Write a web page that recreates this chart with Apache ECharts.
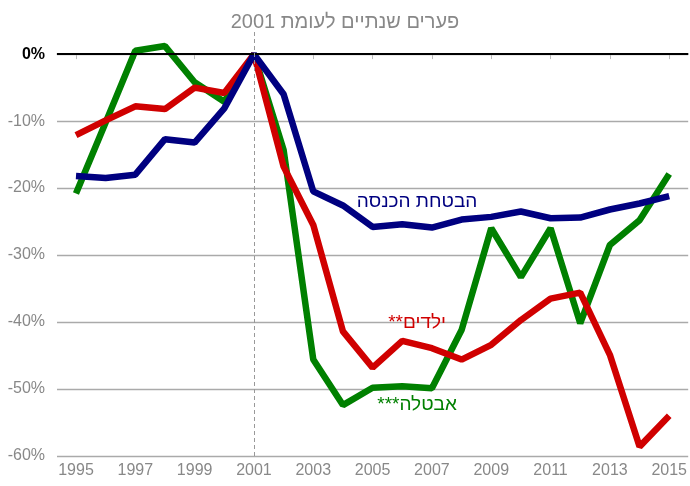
<!DOCTYPE html>
<html lang="he">
<head>
  <meta charset="UTF-8">
  <title>פערים שנתיים לעומת 2001</title>
  <style>
    html, body { margin: 0; padding: 0; background: #fff; }
    #main { width: 690px; height: 486px; }
  </style>
</head>
<body>
  <div id="main"></div>
  <script src="https://cdn.jsdelivr.net/npm/echarts@6/dist/echarts.min.js"></script>
  <script>
    // שנים ונתונים (אחוז שינוי לעומת 2001)
    var years = [1995, 1996, 1997, 1998, 1999, 2000, 2001, 2002, 2003, 2004, 2005,
                 2006, 2007, 2008, 2009, 2010, 2011, 2012, 2013, 2014, 2015]
    var yearLabels = [1995, 1997, 1999, 2001, 2003, 2005, 2007, 2009, 2011, 2013, 2015]
    var incomeSupport = [-18.2, -18.5, -18.0, -12.7, -13.2, -8.1, 0, -6.0, -20.5, -22.6, -25.8,
                         -25.4, -25.9, -24.7, -24.3, -23.5, -24.5, -24.4, -23.2, -22.3, -21.2]
    var children = [-12.1, -9.9, -7.8, -8.2, -5.0, -5.8, 0, -16.8, -25.5, -41.4, -46.8,
                    -42.8, -43.9, -45.6, -43.4, -39.7, -36.5, -35.6, -44.9, -58.6, -54.0]
    var unemployment = [-20.8, -10.2, 0.5, 1.2, -4.2, -7.1, 0, -14.3, -45.6, -52.4, -49.8,
                        -49.6, -49.9, -41.2, -26.0, -33.3, -26.0, -40.2, -28.5, -24.8, -17.9]

    function pairs(arr) {
      return years.map(function (y, i) { return [y, arr[i]] })
    }

    var myChart = echarts.init(document.getElementById('main'))

    var option = {
      animation: false,
      textStyle: { fontFamily: 'Liberation Sans, Arial, sans-serif' },
      title: {
        text: 'פערים שנתיים לעומת 2001',
        left: 'center',
        top: 7,
        textStyle: { color: '#888', fontSize: 20, fontWeight: 'normal' }
      },
      grid: { left: 57, right: 0, top: 30, bottom: 30 },
      xAxis: {
        type: 'value',
        min: 1994.36,
        max: 2015.64,
        axisLine: { lineStyle: { color: '#bbb', width: 1.5 } },
        axisTick: { customValues: yearLabels, length: 5, lineStyle: { color: '#bbb' } },
        axisLabel: {
          customValues: yearLabels,
          color: '#888',
          fontSize: 16,
          margin: 7,
          formatter: function (v) { return String(v) }
        },
        splitLine: { show: false }
      },
      yAxis: {
        type: 'value',
        min: -60,
        max: 3.6,
        interval: 10,
        axisLine: { show: false },
        axisTick: { show: false },
        axisLabel: {
          showMaxLabel: false,
          margin: 12,
          color: '#888',
          fontSize: 16,
          formatter: function (v) {
            if (v === 0) return '{b|0%}'
            return v + '%'
          },
          rich: { b: { color: '#000', fontWeight: 'bold', fontSize: 16 } }
        },
        splitLine: { showMaxLine: false, lineStyle: { color: '#aaa', width: 1.3 } }
      },
      series: [
        {
          type: 'line',
          data: [],
          silent: true,
          markLine: {
            silent: true,
            symbol: 'none',
            label: { show: false },
            data: [
              { yAxis: 0, lineStyle: { color: '#000', width: 2, type: 'solid' } },
              { xAxis: 2001, lineStyle: { color: '#999', width: 1, type: [4, 3] } }
            ]
          }
        },
        {
          name: 'אבטלה',
          type: 'line',
          data: pairs(unemployment),
          showSymbol: false,
          lineStyle: { color: '#008000', width: 6.5 },
          itemStyle: { color: '#008000' },
          markPoint: {
            symbolSize: 0,
            data: [{ coord: [2006.5, -52.4], label: { show: true, position: 'inside', formatter: '***אבטלה', color: '#008000', fontSize: 19 } }]
          }
        },
        {
          name: 'ילדים',
          type: 'line',
          data: pairs(children),
          showSymbol: false,
          lineStyle: { color: '#d00000', width: 6.5 },
          itemStyle: { color: '#d00000' },
          markPoint: {
            symbolSize: 0,
            data: [{ coord: [2006.5, -40.1], label: { show: true, position: 'inside', formatter: '**ילדים', color: '#d00000', fontSize: 19 } }]
          }
        },
        {
          name: 'הבטחת הכנסה',
          type: 'line',
          data: pairs(incomeSupport),
          showSymbol: false,
          lineStyle: { color: '#000080', width: 6.5 },
          itemStyle: { color: '#000080' },
          markPoint: {
            symbolSize: 0,
            data: [{ coord: [2006.5, -22.1], label: { show: true, position: 'inside', formatter: 'הבטחת הכנסה', color: '#000080', fontSize: 19 } }]
          }
        }
      ]
    }

    myChart.setOption(option)
  </script>
</body>
</html>
